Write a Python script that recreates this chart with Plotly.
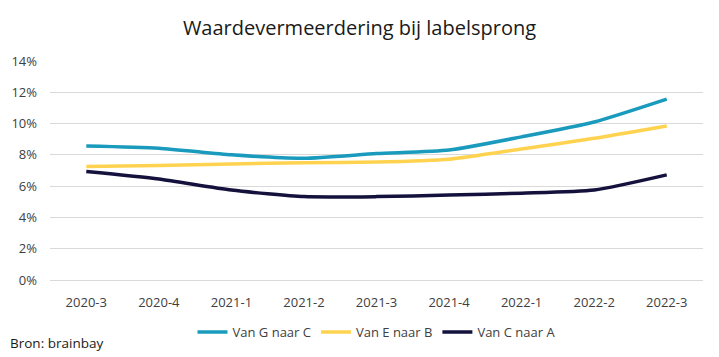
import plotly.graph_objects as go

categories = ["2020-3", "2020-4", "2021-1", "2021-2", "2021-3", "2021-4", "2022-1", "2022-2", "2022-3"]
van_g_naar_c = [8.57, 8.43, 8.0, 7.78, 8.08, 8.31, 9.15, 10.1, 11.56]
van_e_naar_b = [7.25, 7.32, 7.42, 7.5, 7.54, 7.72, 8.38, 9.06, 9.85]
van_c_naar_a = [6.93, 6.45, 5.75, 5.33, 5.33, 5.43, 5.55, 5.75, 6.72]
series_names = ["Van G naar C", "Van E naar B", "Van C naar A"]
colors = ["#1a9bbd", "#ffd34f", "#14123d"]
y_ticks = [0, 2, 4, 6, 8, 10, 12, 14]

fig = go.Figure()
for name, vals, col in zip(series_names, [van_g_naar_c, van_e_naar_b, van_c_naar_a], colors):
    fig.add_trace(go.Scatter(
        x=categories, y=vals, name=name, mode="lines",
        line=dict(color=col, width=3.5, shape="spline", smoothing=0.6),
    ))

fig.update_layout(
    width=719, height=357,
    paper_bgcolor="white", plot_bgcolor="white",
    margin=dict(l=50, r=16, t=61, b=77, autoexpand=False),
    font=dict(family="Open Sans, Liberation Sans, sans-serif", color="#404040", size=13),
    title=dict(text="Waardevermeerdering bij labelsprong", x=0.5, xanchor="center",
               y=1 - 28 / 357, yanchor="middle",
               font=dict(size=20, color="#1a1a1a", family="Open Sans, sans-serif")),
    xaxis=dict(type="category", range=[-0.5, 8.5], showgrid=False, showline=False,
               automargin=False,
               ticks="", ticklabelstandoff=13, tickfont=dict(size=13, color="#404040")),
    yaxis=dict(range=[0, 14], tickvals=y_ticks, ticktext=[f"{v}%" for v in y_ticks],
               automargin=False,
               showgrid=True, gridcolor="#d9d9d9", gridwidth=1, zeroline=True,
               zerolinecolor="#d9d9d9", zerolinewidth=1, ticks="", ticklen=0,
               ticklabelstandoff=12, tickfont=dict(size=13, color="#404040")),
    legend=dict(orientation="h", x=0.5, xanchor="center", y=-52 / 219, yanchor="middle",
                font=dict(size=13, color="#404040"), itemwidth=30),
    showlegend=True,
)
fig.add_annotation(text="Bron: brainbay", xref="paper", yref="paper", x=0, xshift=-42,
                   y=-63 / 219, yanchor="middle", xanchor="left", showarrow=False,
                   font=dict(size=13.5, color="#1a1a1a"))

fig.write_html("out.html", config={"displayModeBar": False},
               post_script="document.body.style.margin='0';")
